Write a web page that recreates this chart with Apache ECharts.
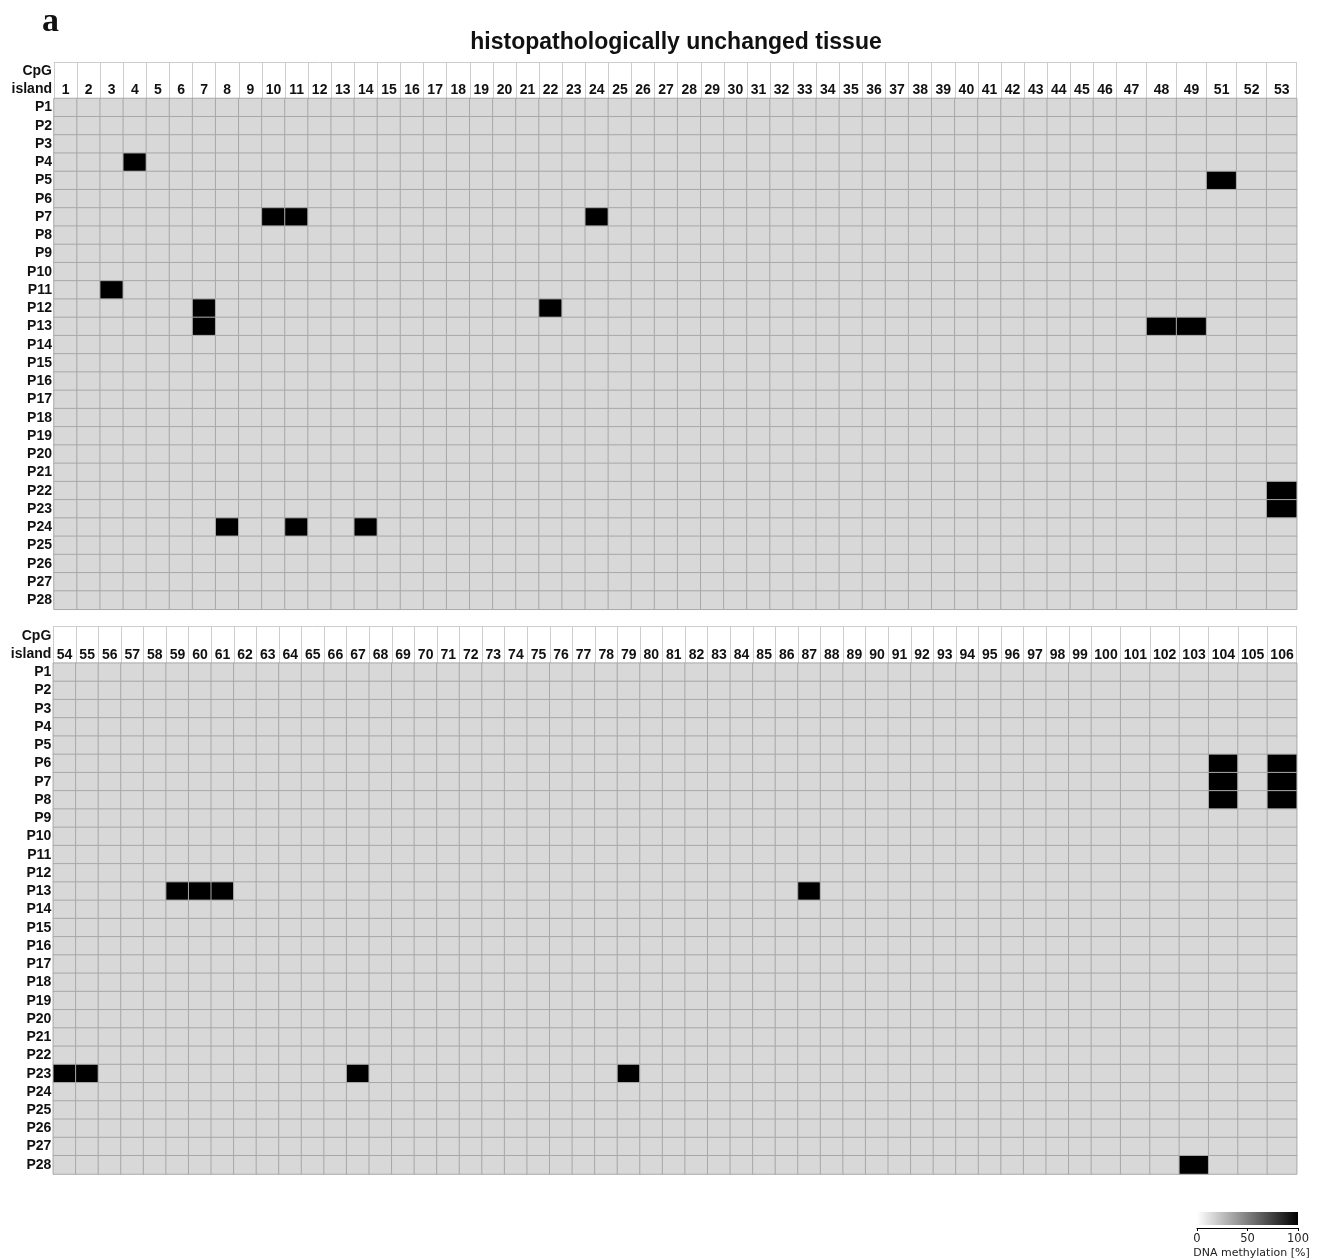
<!DOCTYPE html>
<html>
<head>
<meta charset="utf-8">
<script src="https://cdn.jsdelivr.net/npm/echarts@6/dist/echarts.min.js"></script>
<style>
  html, body { margin: 0; padding: 0; background: #fff; }
  #chart { width: 1322px; height: 1260px; }
</style>
</head>
<body>
<div id="chart"></div>
<script>
// ---------------- data ----------------
const titleText = 'histopathologically unchanged tissue';
const panelLetter = 'a';
const headerLines = ['CpG', 'island'];
const patients = ['P1','P2','P3','P4','P5','P6','P7','P8','P9','P10','P11','P12','P13','P14',
  'P15','P16','P17','P18','P19','P20','P21','P22','P23','P24','P25','P26','P27','P28'];
const cpgTop = ['1','2','3','4','5','6','7','8','9','10','11','12','13','14','15','16','17','18',
  '19','20','21','22','23','24','25','26','27','28','29','30','31','32','33','34','35','36','37',
  '38','39','40','41','42','43','44','45','46','47','48','49','51','52','53'];
const cpgBottom = ['54','55','56','57','58','59','60','61','62','63','64','65','66','67','68','69',
  '70','71','72','73','74','75','76','77','78','79','80','81','82','83','84','85','86','87','88',
  '89','90','91','92','93','94','95','96','97','98','99','100','101','102','103','104','105','106'];
// methylated cells [patient, CpG island]; all other cells are 0 %
const methylatedTop = [['P4','4'],['P5','51'],['P7','10'],['P7','11'],['P7','24'],['P11','3'],
  ['P12','7'],['P12','22'],['P13','7'],['P13','48'],['P13','49'],['P22','53'],['P23','53'],
  ['P24','8'],['P24','11'],['P24','14']];
const methylatedBottom = [['P6','104'],['P6','106'],['P7','104'],['P7','106'],['P8','104'],
  ['P8','106'],['P13','59'],['P13','60'],['P13','61'],['P13','87'],['P23','54'],['P23','55'],
  ['P23','67'],['P23','79'],['P28','103']];
const methylatedValue = 100;
const unmethylatedValue = 0;
const legendRange = [0, 100];
const legendName = 'DNA methylation [%]';

// ---------------- layout / style ----------------
const NARROW_COUNT = 46;     // columns drawn at standard width, rest are wider
const WIDE_RATIO = 1.3;
const ROW_H_TOTAL = 547.3;
const panels = [
  { cols: cpgTop, meth: methylatedTop, left: 54, right: 1296.7, top: 62 },
  { cols: cpgBottom, meth: methylatedBottom, left: 53.3, right: 1296.7, top: 626.7 }
];
const FONT = '"Liberation Sans", Arial, Helvetica, sans-serif';
const CELL_GREY = '#d8d8d8';
const CELL_LINE = '#a8a8a8';
const HEAD_LINE = '#cdcdcd';

const yCats = headerLines.concat(patients);

const grids = [], xAxes = [], yAxes = [], series = [];
const heatIdx = [];

panels.forEach((p, pi) => {
  const wideCount = p.cols.length - NARROW_COUNT;
  const unit = (p.right - p.left) / (NARROW_COUNT + wideCount * WIDE_RATIO);
  const splitX = p.left + unit * NARROW_COUNT;
  const parts = [
    { cols: p.cols.slice(0, NARROW_COUNT), left: p.left, width: splitX - p.left, showY: true },
    { cols: p.cols.slice(NARROW_COUNT), left: splitX, width: p.right - splitX, showY: false }
  ];
  parts.forEach(part => {
    const gi = grids.length;
    grids.push({ left: part.left, top: p.top, width: part.width, height: ROW_H_TOTAL,
      containLabel: false });
    xAxes.push({
      type: 'category', gridIndex: gi, position: 'top', data: part.cols,
      axisLine: { show: true, lineStyle: { color: HEAD_LINE, width: 1 } },
      axisTick: { show: false },
      axisLabel: { inside: true, interval: 0, margin: 28, verticalAlign: 'middle',
        color: '#111', fontFamily: FONT, fontWeight: 'bold', fontSize: 14 },
      splitLine: { show: true, interval: 0, lineStyle: { color: HEAD_LINE, width: 1 } }
    });
    yAxes.push({
      type: 'category', gridIndex: gi, data: yCats, inverse: true,
      axisLine: { show: false }, axisTick: { show: false }, splitLine: { show: false },
      axisLabel: { show: part.showY, interval: 0, margin: 2, color: '#111',
        fontFamily: FONT, fontWeight: 'bold', fontSize: 14 }
    });
    const data = [];
    part.cols.forEach((c, xi) => {
      patients.forEach(pt => {
        const isM = p.meth.some(m => m[0] === pt && m[1] === c);
        data.push([xi, yCats.indexOf(pt), isM ? methylatedValue : unmethylatedValue]);
      });
    });
    heatIdx.push(series.length);
    series.push({
      type: 'heatmap', xAxisIndex: gi, yAxisIndex: gi, data: data,
      progressive: 0, silent: true,
      itemStyle: { borderColor: CELL_LINE, borderWidth: 1 },
      emphasis: { disabled: true }
    });
  });
});

// colour-scale legend as a small axis
const lg = grids.length;
grids.push({ left: 1197, top: 1212, width: 101, height: 13 });
xAxes.push({
  type: 'value', gridIndex: lg, min: legendRange[0], max: legendRange[1], interval: 50,
  position: 'bottom', offset: 3,
  axisLine: { show: true, lineStyle: { color: '#000', width: 1 } },
  axisTick: { show: true, length: 3, lineStyle: { color: '#000' } },
  splitLine: { show: false },
  axisLabel: { margin: 5, fontSize: 11.5, color: '#222', fontFamily: '"DejaVu Sans", sans-serif' },
  name: legendName, nameLocation: 'middle', nameGap: 20,
  nameTextStyle: { fontSize: 11, color: '#222', fontFamily: '"DejaVu Sans", sans-serif',
    padding: [0, 0, 0, 8] }
});
yAxes.push({ type: 'category', gridIndex: lg, data: [''], show: false });
series.push({
  type: 'bar', xAxisIndex: lg, yAxisIndex: lg, data: [legendRange[1]], barWidth: '100%',
  silent: true,
  itemStyle: { color: new echarts.graphic.LinearGradient(0, 0, 1, 0,
    [{ offset: 0, color: '#ffffff' }, { offset: 1, color: '#000000' }]) }
});

const option = {
  backgroundColor: '#fff',
  animation: false,
  title: [
    { text: titleText, left: 671, top: 26, textAlign: 'center',
      textStyle: { fontFamily: FONT, fontWeight: 'bold', fontSize: 23, color: '#111' } },
    { text: panelLetter, left: 37, top: 0,
      textStyle: { fontFamily: '"Liberation Serif", "Times New Roman", serif', fontWeight: 'bold',
        fontSize: 34, color: '#111' } }
  ],
  grid: grids, xAxis: xAxes, yAxis: yAxes,
  visualMap: [{
    type: 'continuous', show: false, seriesIndex: heatIdx,
    min: unmethylatedValue, max: methylatedValue,
    inRange: { color: [CELL_GREY, '#000000'] }
  }],
  series: series
};

const chart = echarts.init(document.getElementById('chart'), null, { renderer: 'canvas' });
chart.setOption(option);
</script>
</body>
</html>
